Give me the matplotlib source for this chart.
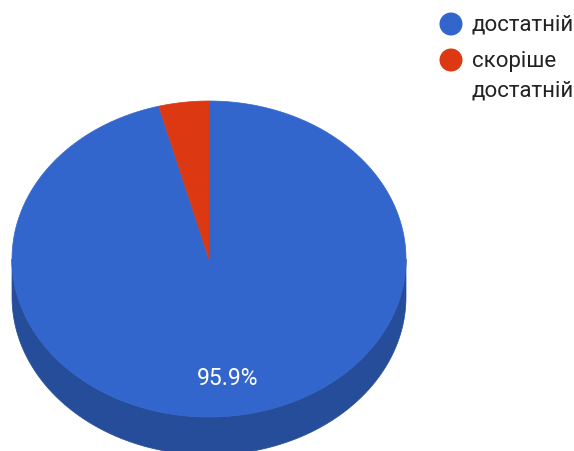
import numpy as np
import matplotlib
matplotlib.use("Agg")
import matplotlib.pyplot as plt
from matplotlib.patches import Polygon, Circle

# --- data ---
labels = ["достатній", "скоріше\nдостатній"]
values = [95.9, 4.1]
colors = ["#3366cc", "#dc3912"]
side_colors = ["#264d99", "#a52b0e"]

# --- geometry (pixel units) ---
W, H = 574, 452
cx, cy = 209, 260
a, b = 197, 158
depth = 38

fig = plt.figure(figsize=(W / 100, H / 100), dpi=100)
ax = fig.add_axes([0, 0, 1, 1])
ax.set_xlim(0, W)
ax.set_ylim(H, 0)
ax.axis("off")

def pt(t, dy=0):
    t = np.radians(t)
    return cx + a * np.cos(t), cy - b * np.sin(t) + dy

# slice angles: start at 12 o'clock going clockwise
fracs = np.array(values) / sum(values)
starts = 90 - np.concatenate([[0], np.cumsum(fracs)[:-1]]) * 360
ends = starts - fracs * 360

# side wall (front half only, angles 180..360)
for s, e, sc in zip(starts, ends, side_colors):
    lo, hi = min(s, e), max(s, e)
    for off in (0, -360, 360):
        l, h = max(lo + off, -180), min(hi + off, 0)
        if l < h:
            ts = np.linspace(l, h, 200)
            top = [pt(t) for t in ts]
            bot = [pt(t, depth) for t in ts[::-1]]
            ax.add_patch(Polygon(top + bot, closed=True, fc=sc, ec=sc, lw=0.5))

# top faces
for s, e, c in zip(starts, ends, colors):
    ts = np.linspace(s, e, 300)
    verts = [(cx, cy)] + [pt(t) for t in ts]
    ax.add_patch(Polygon(verts, closed=True, fc=c, ec=c, lw=0.5))

# percentage label of the big slice
ax.text(228, 379, f"{values[0]:.1f}%", color="white", fontsize=16.5,
        family="Roboto", ha="center", va="center")

# legend
leg_y = [25, 61]
for y, lab, c in zip(leg_y, labels, colors):
    ax.add_patch(Circle((451, y), 11.5, fc=c, ec="none"))
    ax.text(472, y - 10, lab, fontsize=16, family="Roboto", color="#222222",
            ha="left", va="top", linespacing=1.5)

fig.savefig("out.png", dpi=100)
